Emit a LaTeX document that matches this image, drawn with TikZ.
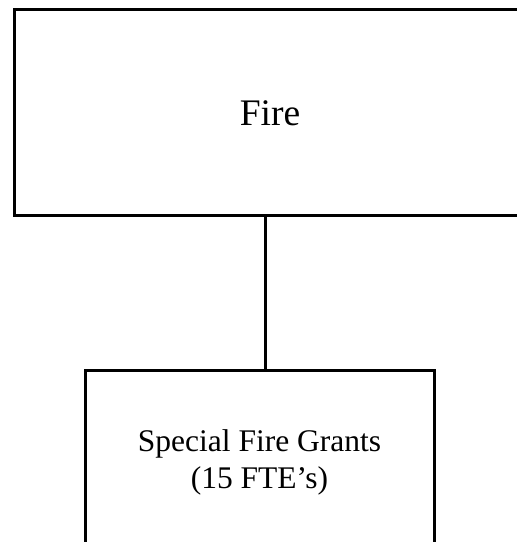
\documentclass[tikz,border=0pt]{standalone}
\usepackage{fontspec}
\setmainfont{Liberation Serif}
\usetikzlibrary{positioning}

\begin{document}
\begin{tikzpicture}[
  x=1pt, y=1pt,
  unit/.style={draw, line width=3pt, fill=white, align=center, inner sep=0pt},
  link/.style={line width=3pt}
]
\clip (0,0) rectangle (517,542);
\useasboundingbox (0,0) rectangle (517,542);

\node[unit, minimum width=512pt, minimum height=206pt, font=\fontsize{37.5}{45}\selectfont] (fire) at (270,429) {Fire};

\node[unit, minimum width=349pt, minimum height=182pt, font=\fontsize{31.5}{37}\selectfont] (grants) at (259.5,80)
  {Special Fire Grants\\(15 FTE's)};

\draw[link] (fire.south -| 265,0) -- (grants.north -| 265,0);

\end{tikzpicture}
\end{document}
